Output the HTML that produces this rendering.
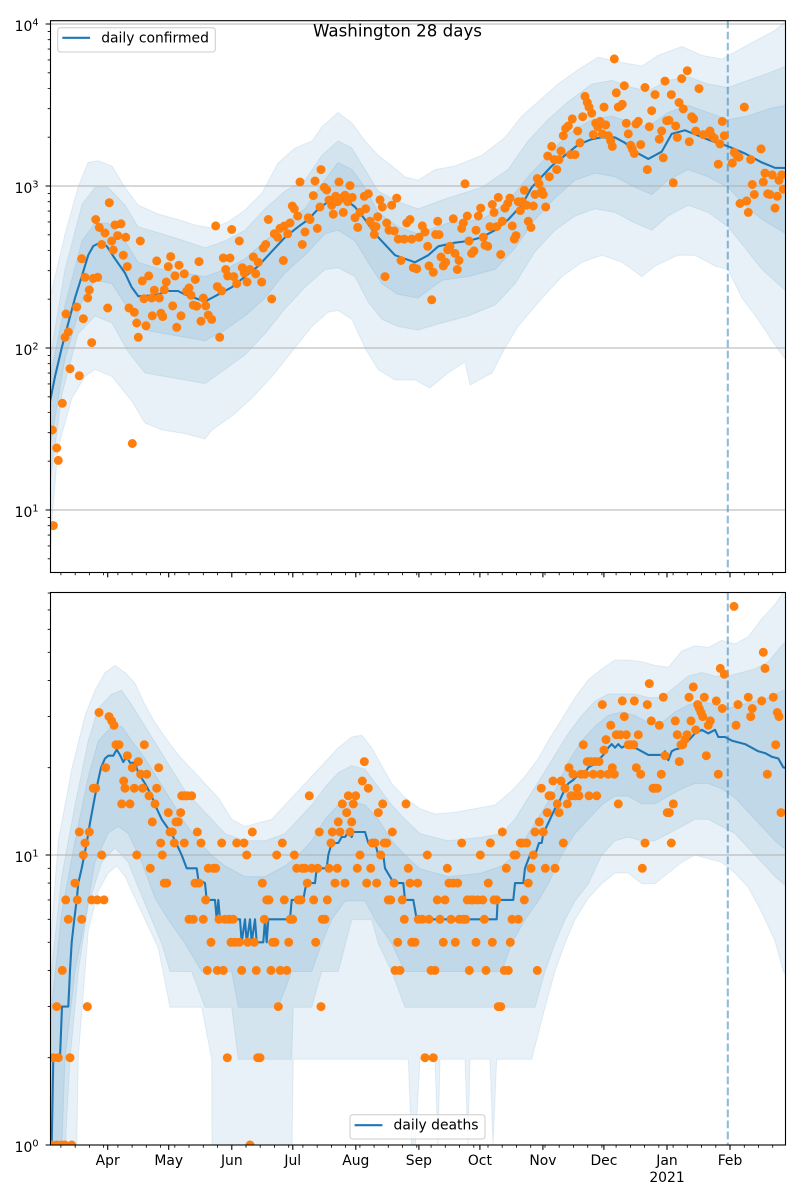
<!DOCTYPE html>
<html><head><meta charset="utf-8"><style>
html,body{margin:0;padding:0;background:#fff;}
svg{display:block;font-family:"DejaVu Sans","Liberation Sans",sans-serif;}
</style></head><body>
<svg width="800" height="1200" viewBox="0 0 800 1200" xmlns="http://www.w3.org/2000/svg">
<defs>
<clipPath id="c1"><rect x="50.5" y="20.7" width="735" height="551.8"/></clipPath>
<clipPath id="c2"><rect x="50.5" y="592.5" width="735" height="552.5"/></clipPath>
</defs>
<rect width="800" height="1200" fill="#fff"/>

<!-- TOP PANEL -->
<g clip-path="url(#c1)">
<g fill="#1f77b4" fill-opacity="0.1" stroke="#1f77b4" stroke-opacity="0.1" stroke-width="1">
<polygon points="50,298 65,234 78,187.4 88,162.4 98,160.6 112,166 125,187.4 138,205 158,214 178,219.5 195,225 212,228 228,222 245,210 262,193 278,163 295,148.1 312,141 322,126.7 338,112.5 352,123 365,141 378,155 392,166 405,176.7 418,180.3 435,169.6 455,166 482,155.3 505,137.4 522,116 542,98.2 558,84 578,69.7 598,57.2 622,62.5 642,66 658,55.4 682,46.5 702,55.4 722,59 735,52 755,41 775,30.4 786,21 786,360 772,340.8 758,319.4 742,298 728,269.5 715,266 695,255.2 678,255.2 655,266 642,276.6 622,262.3 602,255.2 582,262.3 562,276.6 542,298 518,326.5 505,348 492,373 470,385 465,362 448,373 430,388 415,380 395,380 378,369.4 365,348 352,319.4 338,310.5 328,312.3 312,326.5 292,351.5 272,376.5 252,398 232,416 212,430 205,439 185,433.6 162,430 145,423 132,401.5 112,376.5 95,369.4 85,376.5 72,398 58,448 52,520 50,573"/>
<polygon points="50,358.6 65,269.5 82,204.5 95,187.4 108,187.4 125,205 138,226.7 162,233.8 185,241 205,248 225,241 245,230.2 265,208.8 285,191 305,180.3 322,155.3 338,141 352,148.1 365,169.6 378,191 398,201.7 418,208.8 448,198 482,187.4 508,169.6 528,141 548,119.6 568,101.8 592,84 612,80.4 632,87.5 648,91 668,80.4 688,76.8 708,84 728,87.5 748,80.4 768,73.2 786,66 786,291 762,269.5 745,248 728,226.7 708,212.4 688,205.2 668,216 652,230.2 635,223 615,212.4 595,208.8 575,216 555,230.2 535,251.6 515,283.8 495,305 468,316 442,323 418,330 398,326.5 382,319.4 368,301.6 355,276.6 338,267.7 325,269.5 305,287.3 285,308.7 265,333.7 245,355 225,369.4 205,383.6 185,380 165,376.5 145,373 128,351.5 112,323 95,316 78,333.7 62,394 50,483.5"/>
<polygon points="50,376.5 65,305 82,241 95,223 108,223 125,241 138,262.3 162,269.5 185,273 205,276.6 225,269.5 245,258.8 265,241 285,223 305,208.8 322,184 338,162.4 352,169.6 365,187.4 378,212.4 398,226.7 418,233.8 448,223 482,219.5 508,201.7 528,176.7 548,155.3 568,133.9 592,119.6 612,116 632,123.2 648,126.7 668,112.5 688,105.3 708,112.5 728,119.6 748,116 768,108.9 786,105.3 786,233.8 762,219.5 745,205.2 728,187.4 708,176.7 688,169.6 668,180.3 652,194.5 635,187.4 615,176.7 595,173.1 575,180.3 555,198 535,219.5 515,248 495,269.5 468,276.6 442,280.2 418,298 398,294.4 382,283.8 368,262.3 355,241 338,230.2 325,233.8 305,255.2 285,273 265,298 245,315.8 225,330 205,340.8 185,337.3 165,333.7 145,330 128,308.7 112,283.8 95,280.2 82,301.6 65,358.6 50,448"/>
</g>
<path d="M50.5 24H785.5M50.5 186H785.5M50.5 348H785.5M50.5 510H785.5" stroke="#b0b0b0" stroke-width="1.1" fill="none"/>
<line x1="727.8" y1="20.7" x2="727.8" y2="572.5" stroke="#1f77b4" stroke-opacity="0.5" stroke-width="2.08" stroke-dasharray="7.7 3.3"/>
<polyline fill="none" stroke="#1f77b4" stroke-width="2.08" stroke-linejoin="round" points="50,401.5 55,376.5 61.7,348 68.3,323 75,298 81.7,276.6 88.3,255 93.3,246 100,242.7 106.7,246 115,258.8 125,273 131.7,287.3 138.3,296.2 145,296 158,294.4 168,291 178,291 185,294.4 195,298 205,301.6 211.7,298 218.3,294.4 231.7,287.3 245,276.6 258.3,266 271.7,251.6 285,237.3 298.3,226.7 308.3,219.5 318.3,208.8 328.3,201.7 338.3,199.9 348.3,201.7 355,207 365,219.5 375,233.8 385,244.5 395,255.2 405,258.8 415,262.3 428.3,255.2 438.3,246.3 455,242.7 468.3,241 481.7,237.3 495,230.2 508.3,219.5 521.7,205.2 531.7,187.4 541.7,176.7 551.7,166 565,155.3 578.3,144.6 591.7,139.2 601.7,137.4 615,137.4 625,142.8 635,151.7 648.3,158.9 661.7,151.7 671.7,133.9 685,130.3 698.3,135.7 711.7,141 728.3,146.4 745,153.5 761.7,162.4 775,167.8 786,168"/>
<path fill="none" stroke="#ff7f0e" stroke-width="9" stroke-linecap="round" d="M53.3 525.6h0M52.3 430h0M56.7 448h0M58.3 460.4h0M62.3 403.3h0M65 337.3h0M68.3 332h0M70 368.7h0M66 314h0M76.7 307h0M79.3 375.8h0M81.7 258.8h0M83.3 318.7h0M85 277.3h0M87.7 298h0M89.3 290h0M91.7 342.6h0M93.3 278.4h0M95.7 219.5h0M97.7 277.3h0M99.3 227.4h0M101.7 244.5h0M105 233h0M107.7 308h0M109.3 202.7h0M111.7 241h0M115 225h0M117.7 235.6h0M113.3 250h0M121 223.8h0M123.3 255.2h0M125.7 237.3h0M127.3 266.6h0M129 308h0M132.3 443.5h0M134.3 312.3h0M136.7 323h0M138.3 337.3h0M140.3 241h0M142.3 280.9h0M146 325.8h0M148.7 275.9h0M144 298.7h0M151.7 298h0M152.3 315.8h0M154.3 290.2h0M156.7 260.9h0M159.3 298h0M161 313.3h0M162.7 316.6h0M164.3 289.8h0M166.3 282h0M168.3 266.6h0M170.7 256.6h0M172.7 305.9h0M175 275.9h0M176.7 327.3h0M179 265.2h0M181 315.8h0M184.3 273.8h0M186.7 291h0M189 288h0M191 295.2h0M193.3 305.1h0M195.3 279.5h0M199 261.6h0M196.7 306.2h0M201 321.2h0M203.3 298h0M205.7 305.9h0M208.3 315.1h0M211.7 319.4h0M215.7 225.9h0M217.3 286.6h0M219.7 337.3h0M221.7 290.9h0M223.3 258h0M225.7 269.5h0M227.7 275.9h0M230 258h0M231.7 229.5h0M233.7 276.6h0M236.7 283.7h0M239.3 241h0M242.3 267.7h0M244.3 273h0M247 282h0M250 269.5h0M253.3 257h0M255.7 273.8h0M258.3 262.3h0M261.7 282h0M263.3 248h0M265.7 244.5h0M268.3 219.5h0M271.7 299h0M274.3 233.8h0M277.7 237.3h0M280 228.4h0M283.3 260.5h0M284.3 226h0M287.7 233.8h0M290 223h0M292.3 206h0M294.3 208.8h0M297.7 216h0M300 182h0M302.3 244.5h0M305 232h0M308.3 217.7h0M310 219.5h0M313.3 195.6h0M315 181h0M317.3 228.4h0M320 207h0M321 169.6h0M324.3 187.4h0M326.7 190h0M329 200h0M331.7 205.2h0M333.3 214.2h0M335.7 196.3h0M337.7 201.7h0M339 182h0M341.7 198.1h0M343.3 212.4h0M345 195.3h0M347.7 201.7h0M350 185.6h0M352.3 197.4h0M355 217.7h0M357.7 227.4h0M360 212.4h0M364.3 196.3h0M365.7 208.8h0M368.3 193.8h0M370 221.3h0M373.3 226h0M374.3 234.5h0M376 226.6h0M377.7 216.7h0M380 199.9h0M382.3 207h0M385 276.6h0M386.7 223h0M389 230.2h0M391.7 205.2h0M394.3 231h0M396.7 198.1h0M398.3 239.1h0M401 260.5h0M404.3 239.1h0M406.7 223h0M410 219.5h0M411.7 239.1h0M413.3 267.7h0M416.7 268.8h0M419 237.3h0M422.3 225.9h0M425 232h0M427.7 246.3h0M429 265.9h0M431.7 299.8h0M433.3 272.3h0M435.7 234.5h0M437.7 221.3h0M439 234.6h0M441 257h0M443.3 265.9h0M445.7 262.3h0M447.7 249.8h0M450 246.3h0M453.3 218.8h0M455 253.4h0M457.3 269.5h0M459 260.5h0M461.7 228.4h0M463.3 223h0M465 183.8h0M467.3 216h0M469 241h0M471.7 253.4h0M474 250.9h0M476 230.2h0M478.3 216h0M480.7 208.1h0M483.3 237.3h0M485 245.2h0M487.7 246.3h0M490 226.6h0M492.3 204.5h0M494 212.4h0M496.7 226.6h0M498.3 197.4h0M500.7 254.5h0M502.3 221.3h0M505 208.1h0M507.7 203.5h0M510 198.1h0M512.3 225.9h0M514.3 239.1h0M516 235.6h0M518.3 201.7h0M520.3 210.6h0M522.3 201.7h0M524.3 190.3h0M526.7 205.2h0M528.3 221.3h0M531 227.4h0M533.3 206h0M535 194.5h0M537.3 178.5h0M539 183.8h0M541.7 191h0M543.3 194.5h0M545.7 207h0M547.7 156h0M549.3 176.7h0M551.7 146.4h0M554.3 159.6h0M556.7 169.6h0M559 159.6h0M561 151h0M563.3 135.7h0M565.7 128.5h0M568.3 126h0M570.7 154.6h0M572.3 118.9h0M575 154.6h0M577.7 131h0M580 142.8h0M582.7 116.7h0M585 96.4h0M587.3 102.5h0M589 107.1h0M591.7 113.2h0M593.3 134.6h0M595.7 123.2h0M597.7 126.7h0M600 121.4h0M602.3 133.9h0M604 107.1h0M605.7 124.9h0M608.3 135.7h0M610.7 141h0M612.3 146.4h0M614.3 58.9h0M616.3 92.8h0M618.3 107.1h0M620.7 106h0M622.3 104.3h0M624.3 85.7h0M626.3 123.2h0M628.3 133.9h0M630.7 145.3h0M632.3 148.9h0M634.3 153.5h0M636 123.9h0M638.3 121.4h0M640.7 144.6h0M645 87.5h0M647.3 169.6h0M649.3 126.7h0M651.7 110.7h0M655 94.6h0M659.3 139.2h0M661.7 131h0M663.3 157.8h0M665 81.1h0M666.7 120.7h0M669 120.3h0M671.3 94.6h0M673.3 182.8h0M675.7 126h0M677.3 137.4h0M679 102.5h0M681.7 78.6h0M683.3 108.9h0M687.3 70.7h0M689.3 141.7h0M691.7 116.7h0M693.7 118.9h0M695.7 131h0M699 88.6h0M703.3 134.6h0M710 131h0M711.7 135.7h0M714.3 138.2h0M718.3 164.2h0M720 143.9h0M722.3 121.4h0M724.3 135.7h0M732.3 163.1h0M734.3 152.4h0M736.7 155.3h0M739 157.1h0M740 203.5h0M744.3 107.1h0M746.7 200.9h0M748.3 212.4h0M750.7 159.6h0M752.3 184.5h0M754.3 194.5h0M761 148.9h0M763.3 182h0M765 173.1h0M767.7 193.8h0M770 194.5h0M772.3 174.9h0M775 208.1h0M777.3 196.3h0M779 180.3h0M781.7 174.9h0M783.3 189.2h0"/>
</g>
<!-- top legend -->
<rect x="57.7" y="27.7" width="157.6" height="24.3" rx="2.8" fill="#fff" fill-opacity="0.8" stroke="#cccccc" stroke-width="1"/>
<line x1="62.3" y1="37.8" x2="90.1" y2="37.8" stroke="#1f77b4" stroke-width="2.08"/>
<text x="101.2" y="42.3" font-size="13.9" fill="#000">daily confirmed</text>
<!-- title -->
<text x="397.5" y="36.5" font-size="16.67" text-anchor="middle" fill="#000">Washington 28 days</text>

<!-- BOTTOM PANEL -->
<g clip-path="url(#c2)">
<g fill="#1f77b4" fill-opacity="0.1" stroke="#1f77b4" stroke-opacity="0.1" stroke-width="1">
<polygon points="50,948.2 58.3,840.8 71.7,769.2 85,715.5 95,690.4 105,672.5 115,665.4 125,672.5 135,683.3 145,704.8 155,722.7 165,737 178.3,754.9 191.7,769.2 205,783.5 218.3,797.8 231.7,819.3 245,826.5 258.3,822.9 271.7,819.3 285,805 298.3,790.7 311.7,776.4 325,762 338.3,747.7 351.7,737 361.7,735.2 371.7,747.7 381.7,765.6 391.7,783.5 405,797.8 420,808.6 435,814 455,812.2 475,808.6 495,805 511.7,790.7 525,776.4 538.3,758.5 548.3,740.6 561.7,719.1 575,697.6 588.3,679.7 601.7,669 615,660 628.3,660 641.7,661.8 655,665.4 668.3,667.2 681.7,651.1 695,645.7 708.3,647.5 721.7,640.3 735,643.9 748.3,636.7 761.7,618.8 775,604.5 783.3,592 786,590 786,975 783.3,971.5 775,941 761.7,912.4 748.3,887.4 735,873 721.7,862.3 708.3,858.7 695,855.1 681.7,862.3 668.3,873 655,883.8 641.7,883.8 628.3,873 615,873 601.7,883.8 588.3,898.1 575,919.6 565,943.5 555,971.5 545,1007.3 531.7,1059.2 496.7,1059.2 493,1145 490,1059.2 470,1059.2 468,1145 465,1059.2 440,1059.2 438,1145 435,1059.2 420,1059.2 415,1150 411.7,1150 408.3,1059.2 293.3,1059.2 292,1150 212,1150 211.7,1059.2 201.7,1007.3 170,1007.3 158.3,948.2 145,919.6 135,898.1 125,876.6 116.7,866 108.3,873 98.3,890.9 88.3,930.3 78.3,1055.6 76.7,1150 50,1150"/>
<polygon points="50,984 61.7,876.6 75,805 88.3,740.6 98.3,708.3 111.7,694 121.7,690.4 131.7,704.8 145,726.2 158.3,747.7 171.7,769.2 185,790.7 198.3,805 211.7,819.3 225,833.6 245,840.8 265,840.8 285,833.6 298.3,819.3 311.7,805 325,787.1 338.3,772.8 351.7,765.6 365,769.2 378.3,787.1 391.7,805 405,819.3 420,833.6 448.3,840.8 481.7,837.2 501.7,833.6 515,819.3 528.3,797.8 541.7,776.4 555,754.9 568.3,733.4 581.7,715.5 595,701.2 608.3,694 635,694 648.3,697.6 661.7,697.6 675,686.9 688.3,676.1 701.7,672.5 715,676.1 728.3,676.1 741.7,672.5 755,669 768.3,661.8 783.3,643.9 786,642 786,885 783.3,883.8 775,876.6 761.7,862.3 748.3,847.9 735,833.6 721.7,826.5 708.3,819.3 695,819.3 681.7,826.5 668.3,833.6 655,840.8 641.7,840.8 628.3,837.2 615,840.8 601.7,855.1 588.3,883.8 575,901 565,919.6 555,943.5 545,971.5 535,1007.3 405,1007.3 391.7,971.5 378.3,943.5 371.7,919.6 351.7,919.6 338.3,971.5 321.7,971.5 311.7,1007.3 293.3,1007.3 291.7,1059.2 238.3,1059.2 231.7,1007.3 205,1007.3 191.7,971.5 170,971.5 161.7,943.5 151.7,919.6 138.3,887.4 128.3,862.3 115,847.9 101.7,862.3 88.3,905 78.3,971.5 70,1059.2 65,1150 50,1150"/>
<polygon points="50,1019.8 61.7,912.4 75,840.8 88.3,776.4 98.3,740.6 111.7,726.2 121.7,726.2 131.7,740.6 145,758.5 158.3,779.9 171.7,801.4 185,822.9 198.3,840.8 211.7,855.1 225,865.9 245,876.6 265,876.6 285,865.9 298.3,855.1 311.7,840.8 325,819.3 338.3,805 351.7,801.4 365,805 378.3,819.3 391.7,840.8 405,855.1 420,868.7 448.3,876.6 481.7,873 501.7,865.9 515,855.1 528.3,833.6 541.7,812.2 555,790.7 568.3,762 581.7,740.6 595,726.2 608.3,715.5 621.7,711.9 635,715.5 648.3,722.7 661.7,722.7 675,711.9 688.3,704.8 701.7,701.2 715,704.8 728.3,708.3 741.7,704.8 755,701.2 768.3,697.6 783.3,690.4 786,690 786,849 783.3,847.9 775,840.8 761.7,826.5 748.3,812.2 735,797.8 721.7,788.9 708.3,783.5 695,783.5 681.7,788.9 668.3,796.1 655,803.9 641.7,803.9 628.3,796.1 615,796.1 601.7,805 588.3,819.3 575,833.6 561.7,855.1 548.3,883.8 538.3,901 525,919.6 511.7,943.5 501.7,971.5 405,971.5 391.7,943.5 375,919.6 365,901 345,901 331.7,919.6 321.7,943.5 311.7,971.5 291.7,971.5 278.3,1007.3 238.3,1007.3 231.7,971.5 201.7,971.5 185,943.5 168.3,919.6 155,898.1 141.7,862.3 128.3,833.6 118.3,826.5 108.3,833 95,862 85,919.6 75,971.5 65,1059.2 61.7,1150 50,1150"/>
</g>
<path d="M50.5 855H785.5" stroke="#b0b0b0" stroke-width="1.1" fill="none"/>
<line x1="727.8" y1="592.5" x2="727.8" y2="1145" stroke="#1f77b4" stroke-opacity="0.5" stroke-width="2.08" stroke-dasharray="7.7 3.3"/>
<polyline fill="none" stroke="#1f77b4" stroke-width="2.08" stroke-linejoin="round" points="50,1150 51.7,1145 53.3,1057.7 60,1057.7 62,1006.6 68.3,1006.6 70,970.4 71.7,942.3 74.3,919.3 76.7,899.9 78.3,883.1 81.7,868.3 84.3,855 86.7,843 90,822.9 95,796 98.3,780 101,767.7 105,758.5 108.3,755.7 113.3,755.7 116.7,749.5 120,755 123.3,762 126.7,756.7 130,762.8 135,762.8 138.3,772.8 145,783.5 151.7,796.1 156.7,808.6 161.7,819.3 166.7,826.5 171.7,833.6 176.7,844.4 181.7,855.1 186.7,868.3 196.7,868.3 198.3,879.5 205,883.1 206.7,899.9 215,899.9 216.7,919.3 218.3,899.9 220,919.3 240,919.3 241.7,942.3 245,919.3 246.7,942.3 250,919.3 251.7,942.3 255,919.3 256.7,942.3 263.3,942.3 265,919.3 266.7,942.3 268.3,919.3 290,919.3 291.7,899.9 303.3,899.9 305,890 306.7,883.1 315,883.1 316.7,868.3 326.7,868.3 328.3,855 331.7,843 338.3,843 341.7,837 345,837 348.3,832 351.7,837 353.3,832 365,832 368.3,843 375,843 378.3,855 383.3,855 385,868.3 391.7,879.5 393.3,883.1 403.3,883.1 405,899.9 413.3,899.9 416.7,919.3 496.7,919.3 497.7,899.9 513.3,899.9 515,883.1 523.3,883.1 525,868.3 530,855 535,855 539,843 541.7,843 543.3,833.6 548.3,822.9 551.7,815.7 555,808.6 558.3,803.9 561.7,796.1 565,788.9 568.3,783.5 573.3,779.9 578.3,774.6 585,772.8 588.3,767.4 591.7,765.6 596.7,762 600,758.5 605,753.1 608.3,747.7 611.7,744.1 615,747.7 618.3,744.1 621.7,747.7 628.3,744.1 635,747.7 641.7,751.3 648.3,754.9 661.7,754.9 665,751.3 668.3,760.3 671.7,751.3 675,749.5 681.7,747.7 685,744.1 688.3,740.6 695,733.4 701.7,729.8 708.3,733.4 715,729.8 718.3,737 725,737 731.7,740.6 738.3,742.4 745,744.1 751.7,747.7 758.3,751.3 765,753.1 771.7,756.7 778.3,758.5 783.3,767.4 786,768"/>
<path fill="none" stroke="#ff7f0e" stroke-width="9" stroke-linecap="round" d="M51.7 1145h0M56.7 1145h0M61.7 1145h0M65 1145h0M71.7 1145h0M53.3 1057.7h0M56.7 1006.6h0M58.3 1057.7h0M62.3 970.4h0M65.7 899.9h0M68.3 919.3h0M70 1057.7h0M75 883.1h0M77.3 899.9h0M79.3 832h0M81.7 919.3h0M83.3 855h0M85 843h0M87.3 1006.6h0M89.3 832h0M91.7 899.9h0M93.3 788.2h0M95.7 788.2h0M97.3 899.9h0M99 712.5h0M101.7 855h0M104 899.9h0M105.7 767.7h0M109 716.6h0M111.7 720.9h0M114 725.3h0M116 744.7h0M119 744.7h0M121.7 803.9h0M123.7 781h0M125 788.2h0M127.3 755.7h0M130 803.9h0M132.3 767.7h0M134.3 788.2h0M136.7 855h0M138.3 761.6h0M140.7 774.2h0M142.7 788.2h0M144.3 744.7h0M146.7 774.2h0M149 795.8h0M150.3 868.3h0M152.3 821.9h0M155 803.9h0M156.7 788.2h0M158.7 767.7h0M160.7 843h0M162.3 855h0M164.3 883.1h0M166.7 883.1h0M168.3 812.6h0M170 832h0M172.3 832h0M174.3 843h0M176 821.9h0M178.3 821.9h0M180.7 812.6h0M181.7 795.8h0M184.3 795.8h0M184.3 843h0M187.3 795.8h0M189 919.3h0M191.7 795.8h0M193.3 919.3h0M195 883.1h0M197.3 832h0M199 883.1h0M201 843h0M203.3 919.3h0M205.7 899.9h0M207.3 970.4h0M208.3 868.3h0M211 942.3h0M213.3 868.3h0M215.7 868.3h0M217.3 970.4h0M219 919.3h0M221.7 843h0M223.3 970.4h0M225 919.3h0M227.3 1057.7h0M229.3 919.3h0M231 942.3h0M233.3 919.3h0M235 942.3h0M236.7 843h0M239.3 942.3h0M241.7 970.4h0M244 843h0M246.7 855h0M247.7 942.3h0M250 1145h0M252.3 832h0M254.3 942.3h0M256.3 970.4h0M257.7 1057.7h0M260 1057.7h0M262.3 883.1h0M264.3 919.3h0M266.7 899.9h0M269 899.9h0M271 970.4h0M272.7 942.3h0M275 942.3h0M276.7 855h0M278.3 1006.6h0M280.3 970.4h0M282.3 843h0M284.3 899.9h0M286.7 970.4h0M288.7 942.3h0M290.3 919.3h0M292.7 919.3h0M294.3 855h0M296.7 868.3h0M298.3 899.9h0M301 899.9h0M302.3 868.3h0M305 868.3h0M307.3 883.1h0M309.3 795.8h0M311.7 868.3h0M313.7 899.9h0M315.7 942.3h0M317.7 868.3h0M319.3 832h0M321 1006.6h0M322.3 919.3h0M325 919.3h0M327.3 899.9h0M329 868.3h0M331 843h0M332.3 832h0M335 883.1h0M337.3 868.3h0M338.3 821.9h0M340 832h0M342.3 803.9h0M345 883.1h0M346.7 812.6h0M348.3 795.8h0M350 832h0M351.7 821.9h0M353.3 803.9h0M355.7 795.8h0M357.3 868.3h0M360 855h0M362.3 781h0M364.3 761.6h0M366.7 883.1h0M368.3 788.2h0M370.7 868.3h0M372.3 843h0M375 843h0M376.7 883.1h0M378.3 812.6h0M380.7 855h0M382.7 803.9h0M384.3 843h0M386.7 843h0M388.3 899.9h0M390.7 899.9h0M392.3 832h0M394 883.1h0M395 970.4h0M397.7 942.3h0M400 970.4h0M402.3 899.9h0M404.3 919.3h0M406 803.9h0M408.3 868.3h0M410 883.1h0M411.7 942.3h0M415 942.3h0M417.7 883.1h0M418.3 919.3h0M422.3 919.3h0M425 1057.7h0M427.3 855h0M429 919.3h0M431 970.4h0M433.3 1057.7h0M435 970.4h0M437.3 899.9h0M440 919.3h0M443.3 942.3h0M445 899.9h0M447.3 868.3h0M449 883.1h0M451 919.3h0M453.3 883.1h0M455.3 942.3h0M457.7 883.1h0M459.3 919.3h0M461.7 843h0M463.3 919.3h0M465.7 919.3h0M467.3 899.9h0M469.3 970.4h0M471 899.9h0M473.3 899.9h0M476 942.3h0M477.7 899.9h0M480.3 855h0M482.7 899.9h0M484.3 919.3h0M486 970.4h0M488.3 883.1h0M490.3 843h0M492.3 942.3h0M494 899.9h0M496.7 899.9h0M498.3 1006.6h0M500.7 1006.6h0M502.3 832h0M504.3 970.4h0M506.3 868.3h0M508.3 970.4h0M510.3 942.3h0M512 919.3h0M514 855h0M516 855h0M518.3 919.3h0M520.3 843h0M522.3 843h0M524.3 899.9h0M526.7 843h0M528.3 883.1h0M531 868.3h0M533.3 855h0M535 832h0M537.3 970.4h0M539.3 821.9h0M541.3 788.2h0M543.3 832h0M545.3 868.3h0M547.3 812.6h0M549 795.8h0M551 795.8h0M553 781h0M555 868.3h0M557.3 803.9h0M559 812.6h0M561 781h0M563.3 843h0M565 788.2h0M567.3 803.9h0M569 767.7h0M571 795.8h0M573 774.2h0M575 795.8h0M577.3 788.2h0M579 795.8h0M581 774.2h0M583.3 744.7h0M585 774.2h0M587.3 761.6h0M589 795.8h0M591 761.6h0M593.3 774.2h0M595 761.6h0M596.7 795.8h0M599 761.6h0M600.7 774.2h0M602.3 704.6h0M604 750.1h0M606 739.6h0M608.3 774.2h0M610.7 725.3h0M612.3 767.7h0M614.3 774.2h0M616.3 734.7h0M618.3 803.9h0M620.3 734.7h0M622.3 700.9h0M624.3 716.6h0M626.3 734.7h0M628.3 744.7h0M631 744.7h0M633.7 744.7h0M634.3 700.9h0M636.3 767.7h0M638.3 734.7h0M640.7 774.2h0M642.3 868.3h0M645 843h0M647.3 704.6h0M649.3 683.6h0M651.3 720.9h0M653 788.2h0M655 788.2h0M657.3 788.2h0M659.3 725.3h0M661.3 774.2h0M663.3 697.2h0M665 755.7h0M667.3 812.6h0M669.3 812.6h0M671.3 843h0M673.3 803.9h0M675.3 720.9h0M677.3 734.7h0M679.3 761.6h0M681 744.7h0M682.7 744.7h0M685 739.6h0M687 734.7h0M689 697.2h0M691 720.9h0M693.3 686.9h0M695.7 729.9h0M697.7 704.6h0M699.3 708.5h0M701 712.5h0M702.7 716.6h0M704.3 697.2h0M706.3 755.7h0M708.3 725.3h0M710.3 720.9h0M716.3 700.9h0M718.3 774.2h0M720.3 668.4h0M722.3 708.5h0M724.3 674.3h0M734 606.4h0M736 725.3h0M738 704.6h0M748.3 697.2h0M750.7 716.6h0M752.3 708.5h0M761.7 700.9h0M763.3 652.3h0M765 668.4h0M767.3 774.2h0M773.3 697.2h0M775.7 744.7h0M777.3 712.5h0M779 716.6h0M781 812.6h0"/>
</g>
<!-- bottom legend -->
<rect x="350" y="1114.7" width="135" height="24.3" rx="2.8" fill="#fff" fill-opacity="0.8" stroke="#cccccc" stroke-width="1"/>
<line x1="354.6" y1="1125.2" x2="382.4" y2="1125.2" stroke="#1f77b4" stroke-width="2.08"/>
<text x="393.5" y="1129.6" font-size="13.9" fill="#000">daily deaths</text>

<!-- ticks -->
<g stroke="#000" fill="none">
<path stroke-width="1.1" d="M45.6 24h4.9M45.6 186h4.9M45.6 348h4.9M45.6 510h4.9M45.6 855h4.9M45.6 1145h4.9"/>
<path stroke-width="0.83" d="M47.7 558.8h2.8M47.7 545.9h2.8M47.7 535.1h2.8M47.7 525.7h2.8M47.7 517.4h2.8M47.7 461.2h2.8M47.7 432.7h2.8M47.7 412.5h2.8M47.7 396.8h2.8M47.7 383.9h2.8M47.7 373.1h2.8M47.7 363.7h2.8M47.7 355.4h2.8M47.7 299.2h2.8M47.7 270.7h2.8M47.7 250.5h2.8M47.7 234.8h2.8M47.7 221.9h2.8M47.7 211.1h2.8M47.7 201.7h2.8M47.7 193.4h2.8M47.7 137.2h2.8M47.7 108.7h2.8M47.7 88.5h2.8M47.7 72.8h2.8M47.7 59.9h2.8M47.7 49.1h2.8M47.7 39.7h2.8M47.7 31.4h2.8M47.7 1057.7h2.8M47.7 1006.6h2.8M47.7 970.4h2.8M47.7 942.3h2.8M47.7 919.3h2.8M47.7 899.9h2.8M47.7 883.1h2.8M47.7 868.3h2.8M47.7 767.7h2.8M47.7 716.6h2.8M47.7 680.4h2.8M47.7 652.3h2.8M47.7 629.3h2.8M47.7 609.9h2.8M47.7 593.1h2.8"/>
<path stroke-width="1.1" d="M107.7 572.5v4.9M168.7 572.5v4.9M231.8 572.5v4.9M292.8 572.5v4.9M355.8 572.5v4.9M418.9 572.5v4.9M479.9 572.5v4.9M542.9 572.5v4.9M603.9 572.5v4.9M667 572.5v4.9M730 572.5v4.9M107.7 1145v4.9M168.7 1145v4.9M231.8 1145v4.9M292.8 1145v4.9M355.8 1145v4.9M418.9 1145v4.9M479.9 1145v4.9M542.9 1145v4.9M603.9 1145v4.9M667 1145v4.9M730 1145v4.9"/>
<path stroke-width="0.83" d="M60.9 572.5v2.8M75.2 572.5v2.8M89.4 572.5v2.8M103.6 572.5v2.8M117.9 572.5v2.8M132.1 572.5v2.8M146.3 572.5v2.8M160.6 572.5v2.8M174.8 572.5v2.8M189 572.5v2.8M203.3 572.5v2.8M217.5 572.5v2.8M246 572.5v2.8M260.2 572.5v2.8M274.5 572.5v2.8M288.7 572.5v2.8M302.9 572.5v2.8M317.2 572.5v2.8M331.4 572.5v2.8M345.6 572.5v2.8M359.9 572.5v2.8M374.1 572.5v2.8M388.3 572.5v2.8M402.6 572.5v2.8M416.8 572.5v2.8M431.1 572.5v2.8M445.3 572.5v2.8M459.5 572.5v2.8M473.8 572.5v2.8M488 572.5v2.8M502.2 572.5v2.8M516.5 572.5v2.8M530.7 572.5v2.8M545 572.5v2.8M559.2 572.5v2.8M573.4 572.5v2.8M587.7 572.5v2.8M601.9 572.5v2.8M616.1 572.5v2.8M630.4 572.5v2.8M644.6 572.5v2.8M658.8 572.5v2.8M673.1 572.5v2.8M687.3 572.5v2.8M701.5 572.5v2.8M715.8 572.5v2.8M744.3 572.5v2.8M758.5 572.5v2.8M772.7 572.5v2.8M60.9 1145v2.8M75.2 1145v2.8M89.4 1145v2.8M103.6 1145v2.8M117.9 1145v2.8M132.1 1145v2.8M146.3 1145v2.8M160.6 1145v2.8M174.8 1145v2.8M189 1145v2.8M203.3 1145v2.8M217.5 1145v2.8M246 1145v2.8M260.2 1145v2.8M274.5 1145v2.8M288.7 1145v2.8M302.9 1145v2.8M317.2 1145v2.8M331.4 1145v2.8M345.6 1145v2.8M359.9 1145v2.8M374.1 1145v2.8M388.3 1145v2.8M402.6 1145v2.8M416.8 1145v2.8M431.1 1145v2.8M445.3 1145v2.8M459.5 1145v2.8M473.8 1145v2.8M488 1145v2.8M502.2 1145v2.8M516.5 1145v2.8M530.7 1145v2.8M545 1145v2.8M559.2 1145v2.8M573.4 1145v2.8M587.7 1145v2.8M601.9 1145v2.8M616.1 1145v2.8M630.4 1145v2.8M644.6 1145v2.8M658.8 1145v2.8M673.1 1145v2.8M687.3 1145v2.8M701.5 1145v2.8M715.8 1145v2.8M744.3 1145v2.8M758.5 1145v2.8M772.7 1145v2.8"/>
<!-- spines -->
<rect x="50.5" y="20.7" width="735" height="551.8" stroke-width="1.1"/>
<rect x="50.5" y="592.5" width="735" height="552.5" stroke-width="1.1"/>
</g>

<!-- y tick labels -->
<g font-size="13.9" fill="#000" text-anchor="end">
<text x="38.5" y="31">10<tspan font-size="9.7" dy="-5.6">4</tspan></text>
<text x="38.5" y="193">10<tspan font-size="9.7" dy="-5.6">3</tspan></text>
<text x="38.5" y="355">10<tspan font-size="9.7" dy="-5.6">2</tspan></text>
<text x="38.5" y="517">10<tspan font-size="9.7" dy="-5.6">1</tspan></text>
<text x="38.5" y="862">10<tspan font-size="9.7" dy="-5.6">1</tspan></text>
<text x="38.5" y="1152">10<tspan font-size="9.7" dy="-5.6">0</tspan></text>
</g>
<!-- x tick labels -->
<g font-size="13.9" fill="#000" text-anchor="middle">
<text x="107.7" y="1165">Apr</text>
<text x="168.7" y="1165">May</text>
<text x="231.8" y="1165">Jun</text>
<text x="292.8" y="1165">Jul</text>
<text x="355.8" y="1165">Aug</text>
<text x="418.9" y="1165">Sep</text>
<text x="479.9" y="1165">Oct</text>
<text x="542.9" y="1165">Nov</text>
<text x="603.9" y="1165">Dec</text>
<text x="667" y="1165">Jan</text>
<text x="667" y="1182">2021</text>
<text x="730" y="1165">Feb</text>
</g>
</svg>
</body></html>
